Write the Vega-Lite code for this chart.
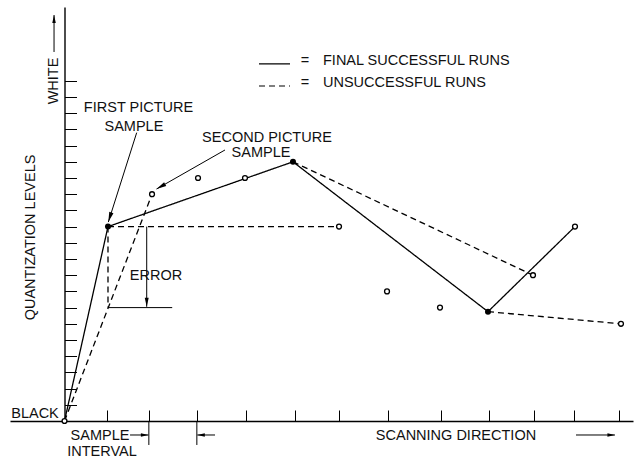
{
  "$schema": "https://vega.github.io/schema/vega-lite/v6.json",
  "width": 623,
  "height": 414,
  "autosize": {"type": "none"},
  "padding": {"left": 10, "top": 7, "right": 5, "bottom": 38},
  "background": "white",
  "config": {"view": {"stroke": null}},
  "datasets": {
    "samples": [
      {"x": 0, "y": 0, "kind": "open"},
      {"x": 0.933, "y": 12, "kind": "filled"},
      {"x": 1.878, "y": 14, "kind": "open"},
      {"x": 2.865, "y": 15, "kind": "open"},
      {"x": 3.873, "y": 15, "kind": "open"},
      {"x": 4.903, "y": 16, "kind": "filled"},
      {"x": 5.891, "y": 12, "kind": "open"},
      {"x": 6.921, "y": 8, "kind": "open"},
      {"x": 8.058, "y": 7, "kind": "open"},
      {"x": 9.088, "y": 6.75, "kind": "filled"},
      {"x": 10.054, "y": 9, "kind": "open"},
      {"x": 10.955, "y": 12, "kind": "open"},
      {"x": 11.942, "y": 6, "kind": "open"}
    ],
    "runs": [
      {"seg": "F", "o": 1, "x": 0, "y": 0, "run": "final"},
      {"seg": "F", "o": 2, "x": 0.933, "y": 12, "run": "final"},
      {"seg": "F", "o": 3, "x": 4.903, "y": 16, "run": "final"},
      {"seg": "F", "o": 4, "x": 9.088, "y": 6.75, "run": "final"},
      {"seg": "F", "o": 5, "x": 10.955, "y": 12, "run": "final"},
      {"seg": "U1", "o": 1, "x": 0, "y": 0, "run": "unsuccessful"},
      {"seg": "U1", "o": 2, "x": 1.878, "y": 14, "run": "unsuccessful"},
      {"seg": "U2", "o": 1, "x": 0.933, "y": 12, "run": "unsuccessful"},
      {"seg": "U2", "o": 2, "x": 5.891, "y": 12, "run": "unsuccessful"},
      {"seg": "U3", "o": 1, "x": 0.933, "y": 12, "run": "unsuccessful"},
      {"seg": "U3", "o": 2, "x": 0.933, "y": 7, "run": "unsuccessful"},
      {"seg": "U4", "o": 1, "x": 4.903, "y": 16, "run": "unsuccessful"},
      {"seg": "U4", "o": 2, "x": 10.054, "y": 9, "run": "unsuccessful"},
      {"seg": "U5", "o": 1, "x": 9.088, "y": 6.75, "run": "unsuccessful"},
      {"seg": "U5", "o": 2, "x": 11.942, "y": 6, "run": "unsuccessful"}
    ],
    "legendlines": [
      {"seg": "LF", "o": 1, "x": 4.174, "y": 22.04, "run": "final"},
      {"seg": "LF", "o": 2, "x": 4.839, "y": 22.04, "run": "final"},
      {"seg": "LU", "o": 1, "x": 4.174, "y": 20.68, "run": "unsuccessful"},
      {"seg": "LU", "o": 2, "x": 4.839, "y": 20.68, "run": "unsuccessful"}
    ],
    "notes": [
      {"seg": "N1", "o": 1, "x": 1.549, "y": 17.8},
      {"seg": "N1", "o": 2, "x": 0.94, "y": 12.28},
      {"seg": "N2", "o": 1, "x": 3.444, "y": 16.73},
      {"seg": "N2", "o": 2, "x": 1.974, "y": 14.32},
      {"seg": "N3", "o": 1, "x": 1.764, "y": 12},
      {"seg": "N3", "o": 2, "x": 1.764, "y": 7.05},
      {"seg": "N4", "o": 1, "x": 0.933, "y": 7},
      {"seg": "N4", "o": 2, "x": 2.311, "y": 7},
      {"seg": "N5", "o": 1, "x": 1.81, "y": 0},
      {"seg": "N5", "o": 2, "x": 1.81, "y": -1.48},
      {"seg": "N6", "o": 1, "x": 2.84, "y": 0},
      {"seg": "N6", "o": 2, "x": 2.84, "y": -1.48},
      {"seg": "N7", "o": 1, "x": 1.406, "y": -0.864},
      {"seg": "N7", "o": 2, "x": 1.8, "y": -0.864},
      {"seg": "N8", "o": 1, "x": 3.23, "y": -0.864},
      {"seg": "N8", "o": 2, "x": 2.85, "y": -0.864},
      {"seg": "N9", "o": 1, "x": 10.977, "y": -0.864},
      {"seg": "N9", "o": 2, "x": 11.813, "y": -0.864},
      {"seg": "N10", "o": 1, "x": -0.225, "y": 22.78},
      {"seg": "N10", "o": 2, "x": -0.225, "y": 25.06}
    ],
    "heads": [
      {"head": "pointer1", "x": 0.94, "y": 12.28},
      {"head": "pointer2", "x": 1.974, "y": 14.32},
      {"head": "error", "x": 1.764, "y": 7.05},
      {"head": "right", "x": 1.8, "y": -0.864},
      {"head": "right", "x": 11.813, "y": -0.864},
      {"head": "left", "x": 2.85, "y": -0.864},
      {"head": "up", "x": -0.225, "y": 25.06}
    ],
    "labels": [
      {"text": "FIRST PICTURE", "x": 1.588, "y": 19.07, "kind": "center"},
      {"text": "SAMPLE", "x": 1.49, "y": 17.9, "kind": "center"},
      {"text": "SECOND PICTURE", "x": 4.345, "y": 17.22, "kind": "center"},
      {"text": "SAMPLE", "x": 4.217, "y": 16.3, "kind": "center"},
      {"text": "ERROR", "x": 1.964, "y": 8.7, "kind": "center"},
      {"text": "BLACK", "x": -0.633, "y": 0.185, "kind": "center"},
      {"text": "SAMPLE", "x": 0.762, "y": -1.17, "kind": "center"},
      {"text": "INTERVAL", "x": 0.805, "y": -2.16, "kind": "center"},
      {"text": "SCANNING  DIRECTION", "x": 8.401, "y": -1.17, "kind": "center"},
      {"text": "=", "x": 5.161, "y": 21.98, "kind": "center"},
      {"text": "=", "x": 5.161, "y": 20.62, "kind": "center"},
      {"text": "FINAL  SUCCESSFUL  RUNS", "x": 5.547, "y": 21.98, "kind": "left"},
      {"text": "UNSUCCESSFUL  RUNS", "x": 5.547, "y": 20.62, "kind": "left"},
      {"text": "WHITE", "x": -0.23, "y": 20.99, "kind": "vertical"},
      {"text": "QUANTIZATION  LEVELS", "x": -0.719, "y": 11.33, "kind": "vertical"}
    ]
  },
  "encoding": {
    "x": {
      "field": "x",
      "type": "quantitative",
      "scale": {"domain": [-1.17, 12.2], "nice": false, "zero": false},
      "axis": {
        "orient": "bottom",
        "values": [0.91, 1.81, 2.84, 3.9, 4.95, 5.89, 6.94, 8.08, 9.11, 10.08, 10.93, 11.9],
        "tickSize": -11,
        "labels": false,
        "title": null,
        "grid": false,
        "domainColor": "black",
        "domainWidth": 1.4,
        "tickColor": "black",
        "tickWidth": 1
      }
    },
    "y": {
      "field": "y",
      "type": "quantitative",
      "scale": {"domain": [0, 25.556], "nice": false, "zero": false},
      "axis": {
        "orient": "left",
        "offset": -54.5,
        "values": [1, 2, 3, 4, 5, 6, 7, 8, 9, 10, 11, 12, 13, 14, 15, 16, 17, 18, 19, 20, 21],
        "tickSize": -12,
        "labels": false,
        "title": null,
        "grid": false,
        "domainColor": "black",
        "domainWidth": 1.4,
        "tickColor": "black",
        "tickWidth": 1
      }
    }
  },
  "layer": [
    {
      "data": {"name": "runs"},
      "mark": {"type": "line", "color": "black", "strokeWidth": 1.3},
      "encoding": {
        "detail": {"field": "seg"},
        "order": {"field": "o"},
        "strokeDash": {
          "field": "run",
          "type": "nominal",
          "scale": {"domain": ["final", "unsuccessful"], "range": [[1, 0], [6, 4]]},
          "legend": null
        }
      }
    },
    {
      "data": {"name": "legendlines"},
      "mark": {"type": "line", "color": "black", "strokeWidth": 1.2},
      "encoding": {
        "detail": {"field": "seg"},
        "order": {"field": "o"},
        "strokeDash": {
          "field": "run",
          "type": "nominal",
          "scale": {"domain": ["final", "unsuccessful"], "range": [[1, 0], [4, 2.5]]},
          "legend": null
        }
      }
    },
    {
      "data": {"name": "notes"},
      "mark": {"type": "line", "color": "black", "strokeWidth": 1},
      "encoding": {"detail": {"field": "seg"}, "order": {"field": "o"}}
    },
    {
      "data": {"name": "samples"},
      "transform": [{"filter": "datum.kind === 'open'"}],
      "mark": {"type": "point", "shape": "circle", "filled": true, "fill": "white", "stroke": "black", "strokeWidth": 1.3, "size": 24, "opacity": 1}
    },
    {
      "data": {"name": "samples"},
      "transform": [{"filter": "datum.kind === 'filled'"}],
      "mark": {"type": "point", "shape": "circle", "filled": true, "color": "black", "size": 36, "opacity": 1}
    },
    {
      "data": {"name": "heads"},
      "transform": [{"filter": "datum.head === 'pointer1'"}],
      "mark": {"type": "point", "shape": "M0,0L0.22,1L-0.22,1Z", "filled": true, "color": "black", "size": 400, "angle": 197.6, "opacity": 1}
    },
    {
      "data": {"name": "heads"},
      "transform": [{"filter": "datum.head === 'pointer2'"}],
      "mark": {"type": "point", "shape": "M0,0L0.22,1L-0.22,1Z", "filled": true, "color": "black", "size": 400, "angle": 240.3, "opacity": 1}
    },
    {
      "data": {"name": "heads"},
      "transform": [{"filter": "datum.head === 'error'"}],
      "mark": {"type": "point", "shape": "M0,0L0.22,1L-0.22,1Z", "filled": true, "color": "black", "size": 324, "angle": 180, "opacity": 1}
    },
    {
      "data": {"name": "heads"},
      "transform": [{"filter": "datum.head === 'right'"}],
      "mark": {"type": "point", "shape": "M0,0L0.22,1L-0.22,1Z", "filled": true, "color": "black", "size": 225, "angle": 90, "opacity": 1}
    },
    {
      "data": {"name": "heads"},
      "transform": [{"filter": "datum.head === 'left'"}],
      "mark": {"type": "point", "shape": "M0,0L0.22,1L-0.22,1Z", "filled": true, "color": "black", "size": 225, "angle": 270, "opacity": 1}
    },
    {
      "data": {"name": "heads"},
      "transform": [{"filter": "datum.head === 'up'"}],
      "mark": {"type": "point", "shape": "M0,0L0.22,1L-0.22,1Z", "filled": true, "color": "black", "size": 256, "angle": 0, "opacity": 1}
    },
    {
      "data": {"name": "labels"},
      "transform": [{"filter": "datum.kind === 'center'"}],
      "mark": {"type": "text", "font": "Liberation Sans", "fontSize": 14.5, "color": "#111", "align": "center", "baseline": "alphabetic"},
      "encoding": {"text": {"field": "text"}}
    },
    {
      "data": {"name": "labels"},
      "transform": [{"filter": "datum.kind === 'left'"}],
      "mark": {"type": "text", "font": "Liberation Sans", "fontSize": 14.5, "color": "#111", "align": "left", "baseline": "alphabetic"},
      "encoding": {"text": {"field": "text"}}
    },
    {
      "data": {"name": "labels"},
      "transform": [{"filter": "datum.kind === 'vertical'"}],
      "mark": {"type": "text", "font": "Liberation Sans", "fontSize": 14.5, "color": "#111", "align": "center", "baseline": "middle", "angle": 270},
      "encoding": {"text": {"field": "text"}}
    }
  ]
}
